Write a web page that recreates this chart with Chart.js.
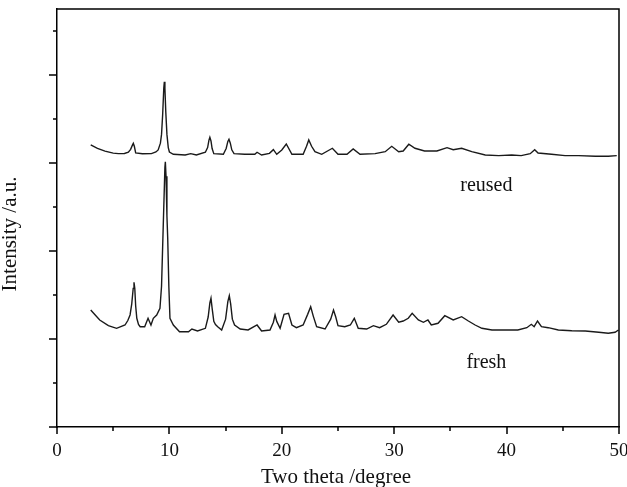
<!DOCTYPE html>
<html>
<head>
<meta charset="utf-8">
<script src="https://cdn.jsdelivr.net/npm/chart.js@4/dist/chart.umd.min.js"></script>
<style>
  html, body { margin: 0; padding: 0; background: #fff; }
  #wrap { width: 627px; height: 487px; }
</style>
</head>
<body>
<div id="wrap"><canvas id="xrdChart"></canvas></div>
<script>
// 2theta positions and intensities
const reusedTheta = [3.0, 3.6, 4.27, 5.0, 5.46, 6.0, 6.35, 6.55, 6.7, 6.79, 6.88, 7.0, 7.6, 8.4, 8.8, 9.0, 9.2, 9.3, 9.4, 9.5, 9.55, 9.6, 9.68, 9.78, 9.9, 10.0, 10.35, 11.4, 11.9, 12.4, 13.2, 13.4, 13.52, 13.6, 13.7, 13.8, 13.95, 14.8, 15.05, 15.2, 15.3, 15.42, 15.55, 15.75, 16.7, 17.6, 17.8, 18.2, 18.9, 19.25, 19.55, 20.0, 20.4, 20.9, 21.9, 22.2, 22.4, 22.65, 22.95, 23.55, 24.5, 25.0, 25.8, 26.35, 26.96, 28.3, 29.2, 29.78, 30.4, 30.8, 31.3, 31.85, 32.7, 33.8, 34.7, 35.25, 36.0, 36.9, 38.1, 39.3, 40.45, 41.3, 42.1, 42.5, 42.8, 44.0, 45.2, 46.4, 47.9, 49.05, 49.8];
const reusedCounts = [6410, 6330, 6270, 6225, 6212, 6215, 6244, 6310, 6400, 6448, 6380, 6228, 6210, 6212, 6250, 6296, 6450, 6650, 7100, 7700, 7848, 7700, 7150, 6650, 6350, 6250, 6198, 6182, 6212, 6182, 6244, 6350, 6520, 6585, 6500, 6330, 6212, 6198, 6330, 6490, 6539, 6450, 6300, 6212, 6198, 6198, 6244, 6182, 6220, 6303, 6198, 6296, 6432, 6198, 6198, 6380, 6523, 6380, 6257, 6198, 6335, 6198, 6198, 6319, 6198, 6212, 6257, 6380, 6257, 6273, 6426, 6335, 6273, 6273, 6348, 6303, 6335, 6257, 6182, 6167, 6182, 6167, 6212, 6303, 6228, 6198, 6167, 6167, 6153, 6153, 6167];

const freshTheta = [3.0, 3.4, 3.8, 4.57, 5.3, 6.05, 6.3, 6.5, 6.65, 6.78, 6.85, 6.92, 7.0, 7.1, 7.25, 7.4, 7.8, 8.1, 8.36, 8.57, 8.87, 9.16, 9.3, 9.4, 9.5, 9.6, 9.64, 9.7, 9.78, 9.85, 9.95, 10.05, 10.35, 10.9, 11.7, 12.0, 12.5, 13.2, 13.45, 13.6, 13.7, 13.8, 13.95, 14.1, 14.3, 14.65, 15.0, 15.2, 15.33, 15.45, 15.6, 15.8, 16.3, 17.0, 17.8, 18.2, 18.95, 19.25, 19.4, 19.55, 19.85, 20.2, 20.6, 20.9, 21.3, 21.9, 22.3, 22.57, 22.8, 23.1, 23.85, 24.35, 24.6, 24.8, 25.0, 25.6, 26.1, 26.45, 26.8, 27.55, 28.15, 28.7, 29.3, 29.9, 30.4, 30.8, 31.25, 31.6, 32.15, 32.6, 33.0, 33.3, 33.9, 34.5, 35.25, 36.0, 36.6, 37.2, 37.8, 38.7, 39.9, 41.0, 41.8, 42.2, 42.45, 42.75, 43.1, 43.7, 44.6, 45.8, 47.0, 48.2, 49.05, 49.65, 49.95];
const freshCounts = [2659, 2546, 2432, 2303, 2243, 2318, 2420, 2546, 2800, 3150, 3289, 3150, 2750, 2471, 2330, 2280, 2280, 2471, 2318, 2471, 2546, 2698, 3200, 4100, 5000, 5900, 6030, 5700, 4800, 4289, 3200, 2471, 2318, 2166, 2166, 2227, 2182, 2243, 2500, 2820, 2925, 2700, 2400, 2330, 2280, 2205, 2450, 2850, 2984, 2800, 2450, 2318, 2227, 2205, 2318, 2182, 2205, 2380, 2546, 2400, 2243, 2562, 2584, 2318, 2257, 2318, 2560, 2734, 2520, 2280, 2227, 2450, 2659, 2500, 2303, 2280, 2318, 2471, 2243, 2227, 2303, 2257, 2334, 2546, 2380, 2409, 2471, 2584, 2432, 2380, 2432, 2318, 2357, 2530, 2432, 2507, 2409, 2318, 2243, 2205, 2205, 2205, 2257, 2334, 2280, 2409, 2280, 2257, 2205, 2189, 2182, 2152, 2130, 2152, 2205];

const xMajorTicks = [0, 10, 20, 30, 40, 50];
const xMinorTicks = [5, 15, 25, 35, 45];
const yMajorTicks = [0, 2000, 4000, 6000, 8000];
const yMinorTicks = [1000, 3000, 5000, 7000, 9000];

// curve labels: [text, 2theta, intensity at baseline]
const curveLabels = [['reused', 38.2, 5360], ['fresh', 38.2, 1340]];

const FONT = '"Liberation Serif", "Times New Roman", serif';

const toPoints = (xs, ys) => xs.map((x, i) => ({ x: x, y: ys[i] }));

const frameAndText = {
  id: 'frameAndText',
  afterDraw(chart) {
    const ctx = chart.ctx;
    const a = chart.chartArea;
    const xs = chart.scales.x;
    const ys = chart.scales.y;
    ctx.save();
    ctx.strokeStyle = '#000';
    ctx.lineWidth = 1.5;
    // top and right edges of the box
    ctx.beginPath();
    ctx.moveTo(a.left, a.top);
    ctx.lineTo(a.right, a.top);
    ctx.lineTo(a.right, a.bottom);
    ctx.stroke();

    // ticks, pointing outwards
    ctx.beginPath();
    xMajorTicks.forEach(v => {
      const p = Math.round(xs.getPixelForValue(v));
      ctx.moveTo(p, a.bottom); ctx.lineTo(p, a.bottom + 7);
    });
    xMinorTicks.forEach(v => {
      const p = Math.round(xs.getPixelForValue(v));
      ctx.moveTo(p, a.bottom); ctx.lineTo(p, a.bottom + 4);
    });
    yMajorTicks.forEach(v => {
      const p = Math.round(ys.getPixelForValue(v));
      ctx.moveTo(a.left, p); ctx.lineTo(a.left - 8, p);
    });
    yMinorTicks.forEach(v => {
      const p = Math.round(ys.getPixelForValue(v));
      ctx.moveTo(a.left, p); ctx.lineTo(a.left - 4, p);
    });
    ctx.stroke();

    ctx.fillStyle = '#111';
    ctx.font = '20px ' + FONT;
    ctx.textAlign = 'center';
    ctx.textBaseline = 'alphabetic';
    curveLabels.forEach(([t, x, y]) => {
      ctx.fillText(t, xs.getPixelForValue(x), ys.getPixelForValue(y));
    });

    // axis titles
    ctx.font = '21px ' + FONT;
    ctx.fillText('Two theta /degree', (a.left + a.right) / 2 - 2, 483);
    ctx.translate(16, 234);
    ctx.rotate(-Math.PI / 2);
    ctx.fillText('Intensity /a.u.', 0, 0);
    ctx.restore();
  }
};

const lineStyle = {
  borderColor: '#1a1a1a',
  borderWidth: 1.4,
  pointRadius: 0,
  tension: 0,
  fill: false
};

new Chart(document.getElementById('xrdChart'), {
  type: 'line',
  data: {
    datasets: [
      Object.assign({ label: 'reused', data: toPoints(reusedTheta, reusedCounts) }, lineStyle),
      Object.assign({ label: 'fresh', data: toPoints(freshTheta, freshCounts) }, lineStyle)
    ]
  },
  options: {
    responsive: true,
    maintainAspectRatio: false,
    animation: false,
    layout: { padding: { top: 9, right: 8, left: 0, bottom: 0 } },
    plugins: {
      legend: { display: false },
      tooltip: { enabled: false }
    },
    scales: {
      x: {
        type: 'linear',
        min: 0,
        max: 50,
        grid: { display: false },
        border: { display: true, color: '#000', width: 1.5 },
        ticks: {
          stepSize: 10,
          padding: 5,
          color: '#111',
          font: { family: FONT, size: 19 }
        },
        afterFit: s => { s.height = 60; s.paddingLeft = 0; s.paddingRight = 0; }
      },
      y: {
        type: 'linear',
        min: 0,
        max: 9500,
        grid: { display: false },
        border: { display: true, color: '#000', width: 1.5 },
        ticks: { display: false, stepSize: 1000 },
        afterFit: s => { s.width = 57; s.paddingTop = 0; s.paddingBottom = 0; }
      }
    }
  },
  plugins: [frameAndText]
});
</script>
</body>
</html>
